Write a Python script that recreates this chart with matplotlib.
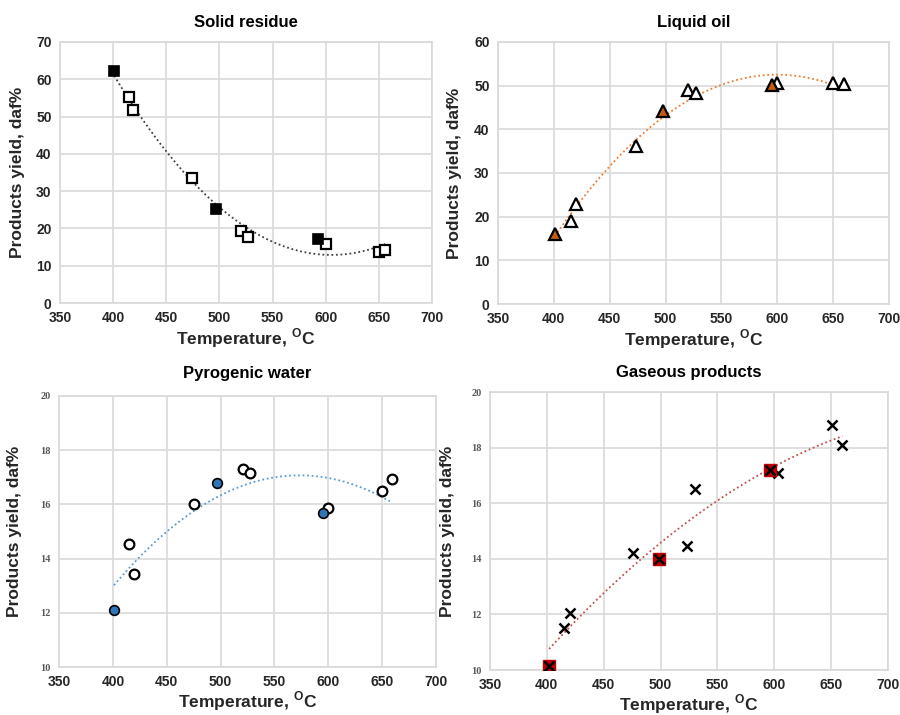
import numpy as np
import matplotlib
matplotlib.use("Agg")
import matplotlib.pyplot as plt

plt.rcParams['font.family'] = ['Liberation Sans', 'DejaVu Sans']

# ---------------- data ----------------
# Solid residue
solid_fill_x = [401, 497, 593]
solid_fill_y = [62.2, 25.3, 17.2]
solid_open_x = [415, 419, 474, 520, 527, 600, 650, 656]
solid_open_y = [55.2, 51.7, 33.4, 19.2, 17.7, 15.9, 13.8, 14.1]

# Liquid oil
oil_fill_x = [401, 498, 595]
oil_fill_y = [16.0, 44.2, 50.1]
oil_open_x = [415, 420, 474, 520, 527, 600, 650, 660]
oil_open_y = [19.0, 23.0, 36.2, 48.9, 48.3, 50.7, 50.6, 50.4]

# Pyrogenic water
water_fill_x = [401, 497, 595]
water_fill_y = [12.1, 16.8, 15.7]
water_open_x = [415, 420, 475, 521, 527, 600, 650, 659]
water_open_y = [14.55, 13.45, 16.0, 17.3, 17.15, 15.85, 16.5, 16.95]

# Gaseous products
gas_fill_x = [402, 499, 596]
gas_fill_y = [10.15, 14.0, 17.2]
gas_open_x = [415, 420, 476, 523, 530, 603, 651, 660]
gas_open_y = [11.5, 12.05, 14.2, 14.45, 16.5, 17.1, 18.8, 18.1]

titles = ["Solid residue", "Liquid oil", "Pyrogenic water", "Gaseous products"]
x_ticks = [350, 400, 450, 500, 550, 600, 650, 700]
y_ticks_solid = [0, 10, 20, 30, 40, 50, 60, 70]
y_ticks_oil = [0, 10, 20, 30, 40, 50, 60]
y_ticks_small = [10, 12, 14, 16, 18, 20]

XLABEL = "Temperature, $^{\\mathregular{O}}$C"
YLABEL = "Products yield, daf%"
GRID = '#d9d9d9'
TXT = '#262626'

fig = plt.figure(figsize=(9.0, 7.15), dpi=100)

ax_tl = fig.add_axes([0.0667, 0.5762, 0.4133, 0.3651])
ax_tr = fig.add_axes([0.5533, 0.5748, 0.4344, 0.3665])
ax_bl = fig.add_axes([0.0656, 0.0671, 0.4189, 0.3791])
ax_br = fig.add_axes([0.5444, 0.0629, 0.4422, 0.3888])


def style(ax, yticks, small_y, title, title_pad, xpad):
    ax.set_xlim(350, 700)
    ax.set_ylim(yticks[0], yticks[-1])
    ax.set_xticks(x_ticks)
    ax.set_yticks(yticks)
    ax.grid(True, color=GRID, linewidth=1.2)
    ax.set_axisbelow(True)
    for s in ax.spines.values():
        s.set_color(GRID)
        s.set_linewidth(1.2)
    ax.tick_params(length=0, pad=6)
    for lab in ax.get_xticklabels():
        lab.set_fontweight('bold')
        lab.set_fontsize(10)
        lab.set_color(TXT)
    for lab in ax.get_yticklabels():
        if small_y:
            lab.set_fontsize(7.5)
            lab.set_color('#595959')
            lab.set_fontweight('bold')
            lab.set_family(['Liberation Serif', 'DejaVu Serif'])
        else:
            lab.set_fontweight('bold')
            lab.set_fontsize(10)
            lab.set_color(TXT)
    ax.set_xlabel(XLABEL, fontsize=12.5, fontweight='bold', color=TXT, labelpad=xpad)
    ax.set_ylabel(YLABEL, fontsize=12.5, fontweight='bold', color=TXT)
    ax.set_title(title, fontsize=12, fontweight='bold', color='black', pad=title_pad)


def trend(ax, xs, ys, color):
    x = np.array(xs, dtype=float)
    y = np.array(ys, dtype=float)
    c = np.polyfit(x, y, 2)
    xx = np.linspace(x.min(), x.max(), 200)
    ax.plot(xx, np.polyval(c, xx), linestyle=(0, (1, 1.5)), color=color, linewidth=1.3, zorder=2)


# Solid residue
style(ax_tl, y_ticks_solid, False, titles[0], 11, 1)
trend(ax_tl, solid_fill_x + solid_open_x, solid_fill_y + solid_open_y, '#404040')
ax_tl.plot(solid_open_x, solid_open_y, 's', ms=7, mfc='white', mec='black', mew=1.6, zorder=3)
ax_tl.plot(solid_fill_x, solid_fill_y, 's', ms=7.5, mfc='black', mec='black', mew=1.2, zorder=3)
ax_tl.yaxis.set_label_coords(-0.094, 0.5)

# Liquid oil
style(ax_tr, y_ticks_oil, False, titles[1], 11, 1)
trend(ax_tr, oil_fill_x + oil_open_x, oil_fill_y + oil_open_y, '#ed7d31')
ax_tr.plot(oil_open_x, oil_open_y, '^', ms=8, mfc='white', mec='black', mew=1.6, zorder=3)
ax_tr.plot(oil_fill_x, oil_fill_y, '^', ms=8, mfc='#c55a11', mec='black', mew=1.6, zorder=3)
ax_tr.yaxis.set_label_coords(-0.092, 0.5)

# Pyrogenic water
style(ax_bl, y_ticks_small, True, titles[2], 13, 0)
trend(ax_bl, water_fill_x + water_open_x, water_fill_y + water_open_y, '#5b9bd5')
ax_bl.plot(water_open_x, water_open_y, 'o', ms=7, mfc='white', mec='black', mew=1.6, zorder=3)
ax_bl.plot(water_fill_x, water_fill_y, 'o', ms=7, mfc='#2e75b6', mec='black', mew=1.2, zorder=3)
ax_bl.yaxis.set_label_coords(-0.098, 0.5)

# Gaseous products
style(ax_br, y_ticks_small, True, titles[3], 11, 0)
trend(ax_br, gas_fill_x + gas_open_x, gas_fill_y + gas_open_y, '#c0504d')
ax_br.plot(gas_open_x, gas_open_y, 'x', ms=7, mec='black', mew=1.8, zorder=3)
ax_br.plot(gas_fill_x, gas_fill_y, 's', ms=8.5, mfc='#c00000', mec='#c00000', zorder=3)
ax_br.plot(gas_fill_x, gas_fill_y, 'x', ms=7, mec='black', mew=1.8, zorder=4)
ax_br.yaxis.set_label_coords(-0.088, 0.5)

fig.savefig("out.png", dpi=100)
